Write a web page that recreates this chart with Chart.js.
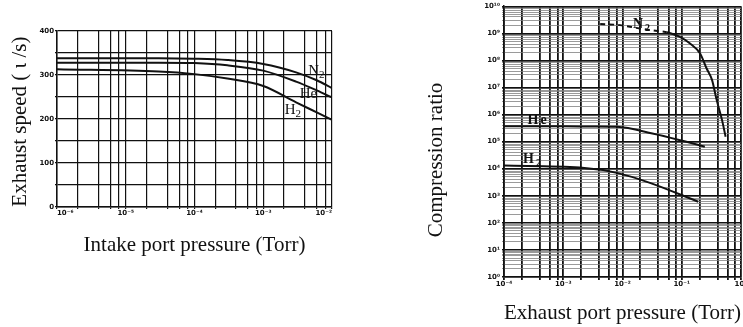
<!DOCTYPE html>
<html>
<head>
<meta charset="utf-8">
<title>Exhaust speed and compression ratio</title>
<script src="https://cdn.jsdelivr.net/npm/chart.js@4.4.1/dist/chart.umd.min.js"></script>
<style>
  html, body { margin: 0; padding: 0; background: #fff; overflow: hidden; }
  body { width: 743px; height: 327px; position: relative; }
  .box { position: absolute; top: 0; height: 327px; }
  #speedBox { left: 0; width: 345px; }
  #ratioBox { left: 400px; width: 360px; }
</style>
</head>
<body>
<div class="box" id="speedBox"><canvas id="speedChart"></canvas></div>
<div class="box" id="ratioBox"><canvas id="ratioChart"></canvas></div>
<script>
// left chart: exhaust speed (l/s) against intake port pressure (Torr)
const intakePressure = [1e-6, 3e-5, 1e-4, 3e-4, 1e-3, 3e-3, 6e-3, 1e-2];
const speedN2 = [338, 338, 337, 334, 325, 306, 288, 270];
const speedHe = [328, 328, 327, 322, 310, 285, 265, 249];
const speedH2 = [313, 308, 302, 292, 275, 238, 215, 198];
const speedTickLabels = ['0', '100', '200', '300', '400'];
const intakeTickLabels = ['10⁻⁶', '10⁻⁵', '10⁻⁴', '10⁻³', '10⁻²'];

// right chart: compression ratio against exhaust port pressure (Torr)
const n2DashPressure = [4.2e-3, 9.1e-3, 1.95e-2, 5.6e-2];
const n2DashRatio = [2.2e9, 2.0e9, 1.5e9, 1.1e9];
const n2Pressure = [5.6e-2, 9.3e-2, 0.138, 0.204, 0.263, 0.324, 0.389, 0.479, 0.55];
const n2Ratio = [1.1e9, 7.4e8, 4.2e8, 1.8e8, 5.0e7, 1.9e7, 3.4e6, 6.2e5, 1.5e5];
const hePressure = [1e-4, 1e-3, 3e-3, 8e-3, 3.2e-2, 0.12, 0.245];
const heRatio = [3.7e5, 3.7e5, 3.6e5, 3.5e5, 2.0e5, 9.8e4, 6.5e4];
const h2Pressure = [1e-4, 1.9e-3, 8e-3, 2.9e-2, 0.19];
const h2Ratio = [1.3e4, 1.1e4, 7.0e3, 3.0e3, 6.0e2];
const ratioTickLabels = ['10⁰', '10¹', '10²', '10³', '10⁴', '10⁵', '10⁶', '10⁷', '10⁸', '10⁹', '10¹⁰'];
const exhaustTickLabels = ['10⁻⁴', '10⁻³', '10⁻²', '10⁻¹', '10⁰'];

// gas names written next to the curves (data units)
const speedNames = [
    { text: 'N', sub: '2', x: 4.5e-3, y: 300 },
    { text: 'He', sub: '', x: 3.4e-3, y: 248 },
    { text: 'H', sub: '2', x: 2.05e-3, y: 211 }
];
const ratioNames = [
    { text: 'N', sub: '2', x: 1.5e-2, y: 1.55e9 },
    { text: 'He', sub: '', x: 2.5e-4, y: 4.5e5 },
    { text: 'H', sub: '2', x: 2.1e-4, y: 1.6e4 }
];

const INK = '#111';
const serif = 'Liberation Serif, Times New Roman, serif';
const tickFont = { family: 'DejaVu Sans, sans-serif', size: 7, weight: 'bold' };
const titleFont = { family: serif, size: 21, lineHeight: 1 };

function isDecade(v) {
    const l = Math.log10(v);
    return Math.abs(l - Math.round(l)) < 1e-9;
}

// grid values m x 10^n for each decade, plus the closing decade
function logGrid(fromExp, toExp, mults) {
    let vals = [];
    for (let e = fromExp; e < toExp; e++) {
        mults.forEach(m => vals.push(m * Math.pow(10, e)));
    }
    vals.push(Math.pow(10, toExp));
    return vals;
}

function decadeLabel(labels, fromExp) {
    return function(value) {
        if (!isDecade(value)) return '';
        return labels[Math.round(Math.log10(value)) - fromExp];
    };
}

function curve(label, xs, ys, dash) {
    return {
        label: label,
        data: xs.map((x, i) => ({ x: x, y: ys[i] })),
        borderColor: INK,
        borderWidth: 2,
        borderDash: dash || [],
        pointRadius: 0,
        fill: false,
        cubicInterpolationMode: 'monotone'
    };
}

const curveNames = {
    id: 'curveNames',
    afterDatasetsDraw(chart, args, opts) {
        const ctx = chart.ctx;
        const xs = chart.scales.x, ys = chart.scales.y;
        ctx.save();
        ctx.fillStyle = INK;
        ctx.textBaseline = 'alphabetic';
        ctx.letterSpacing = opts.spacing;
        opts.items.forEach(item => {
            let px = xs.getPixelForValue(item.x);
            const py = ys.getPixelForValue(item.y);
            ctx.font = opts.font;
            ctx.fillText(item.text, px, py);
            px += ctx.measureText(item.text).width;
            if (item.sub) {
                ctx.font = opts.subFont;
                ctx.fillText(item.sub, px, py + opts.subShift);
            }
        });
        ctx.restore();
    }
};

Chart.register(curveNames);

// ---- left chart ----
new Chart(document.getElementById('speedChart'), {
    type: 'line',
    data: {
        datasets: [
            curve('N2', intakePressure, speedN2),
            curve('He', intakePressure, speedHe),
            curve('H2', intakePressure, speedH2)
        ]
    },
    options: {
        responsive: true,
        maintainAspectRatio: false,
        animation: false,
        layout: { padding: { left: 0, right: 13, top: 31, bottom: 0 } },
        plugins: {
            legend: { display: false },
            tooltip: { enabled: false },
            curveNames: { items: speedNames, font: '15px ' + serif, subFont: '11px ' + serif, subShift: 3, spacing: '0px' }
        },
        scales: {
            x: {
                type: 'logarithmic',
                min: 1e-6,
                max: 1e-2,
                afterBuildTicks: axis => { axis.ticks = logGrid(-6, -2, [1, 2, 4, 6, 8]).map(v => ({ value: v })); },
                afterFit: axis => { axis.height = 120; },
                ticks: {
                    autoSkip: false,
                    maxRotation: 0,
                    align: 'inner',
                    padding: 0,
                    color: INK,
                    font: tickFont,
                    callback: decadeLabel(intakeTickLabels, -6)
                },
                grid: { color: INK, lineWidth: 1.2, tickLength: 2 },
                border: { color: INK, width: 1.5 },
                title: {
                    display: true,
                    text: 'Intake port pressure (Torr)',
                    color: INK,
                    font: titleFont,
                    padding: { top: 0, bottom: 71 }
                }
            },
            y: {
                min: 0,
                max: 400,
                afterBuildTicks: axis => {
                    let t = [];
                    for (let v = 0; v <= 400; v += 50) t.push({ value: v });
                    axis.ticks = t;
                },
                afterFit: axis => { axis.width = 57; },
                ticks: {
                    autoSkip: false,
                    padding: 1,
                    color: INK,
                    font: tickFont,
                    callback: v => (v % 100 === 0 ? speedTickLabels[v / 100] : '')
                },
                grid: { color: INK, lineWidth: 1.2, tickLength: 2 },
                border: { color: INK, width: 1.5 },
                title: {
                    display: true,
                    text: 'Exhaust speed ( ι /s) ',
                    color: INK,
                    font: titleFont,
                    padding: { top: 10, bottom: 0 }
                }
            }
        }
    }
});

// ---- right chart ----
new Chart(document.getElementById('ratioChart'), {
    type: 'line',
    data: {
        datasets: [
            curve('N2 (dashed)', n2DashPressure, n2DashRatio, [5, 4]),
            curve('N2', n2Pressure, n2Ratio),
            curve('He', hePressure, heRatio),
            curve('H2', h2Pressure, h2Ratio)
        ]
    },
    options: {
        responsive: true,
        maintainAspectRatio: false,
        animation: false,
        layout: { padding: { left: 0, right: 19, top: 6, bottom: 0 } },
        plugins: {
            legend: { display: false },
            tooltip: { enabled: false },
            curveNames: { items: ratioNames, font: 'bold 14px ' + serif, subFont: 'bold 10px ' + serif, subShift: 3, spacing: '2px' }
        },
        scales: {
            x: {
                type: 'logarithmic',
                min: 1e-4,
                max: 1,
                afterBuildTicks: axis => { axis.ticks = logGrid(-4, 0, [1, 2, 4, 6, 8]).map(v => ({ value: v })); },
                afterFit: axis => { axis.height = 50; },
                ticks: {
                    autoSkip: false,
                    maxRotation: 0,
                    padding: 0,
                    color: INK,
                    font: tickFont,
                    callback: decadeLabel(exhaustTickLabels, -4)
                },
                grid: { color: INK, lineWidth: 1.8, tickLength: 3 },
                border: { color: INK, width: 1.5 },
                title: {
                    display: true,
                    text: 'Exhaust port pressure (Torr)',
                    color: INK,
                    font: titleFont,
                    padding: { top: 0, bottom: 3 }
                }
            },
            y: {
                type: 'logarithmic',
                min: 1,
                max: 1e10,
                afterBuildTicks: axis => { axis.ticks = logGrid(0, 10, [1, 2, 3, 4, 5, 6, 7, 8, 9]).map(v => ({ value: v })); },
                afterFit: axis => { axis.width = 104; },
                ticks: {
                    autoSkip: false,
                    padding: 2,
                    color: INK,
                    font: tickFont,
                    callback: decadeLabel(ratioTickLabels, 0)
                },
                grid: {
                    color: c => (isDecade(c.tick.value) ? INK : '#808080'),
                    lineWidth: c => (isDecade(c.tick.value) ? 1.4 : 0.8),
                    tickLength: 2
                },
                border: { color: INK, width: 1.5 },
                title: {
                    display: true,
                    // trailing spaces push the centred title down, as in the original
                    text: 'Compression ratio       ',
                    color: INK,
                    font: titleFont,
                    padding: { top: 26, bottom: 0 }
                }
            }
        }
    }
});
</script>
</body>
</html>
